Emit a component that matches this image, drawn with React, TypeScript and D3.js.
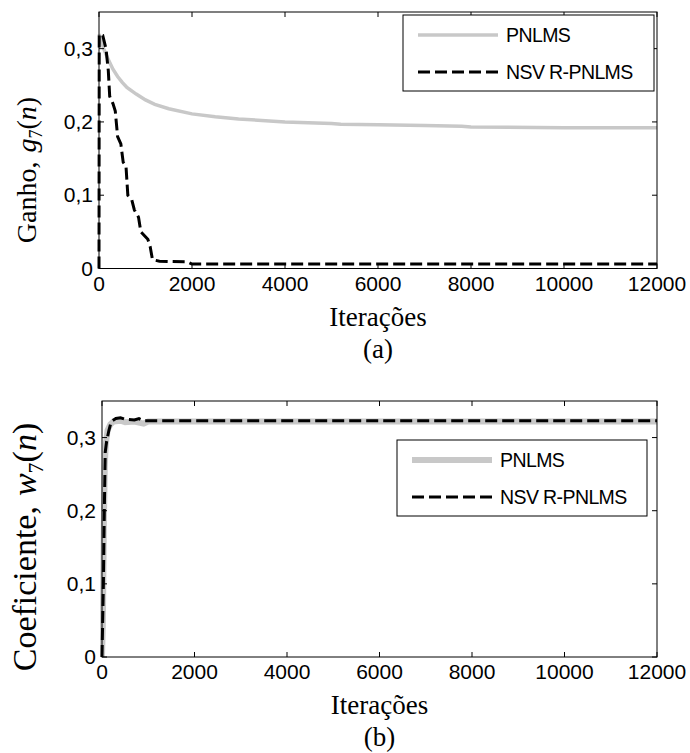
import React from "react";
import * as d3 from "d3";

// ---------- data ----------
const iterTicks = [0, 2000, 4000, 6000, 8000, 10000, 12000];
const valueTicks = [0, 0.1, 0.2, 0.3];
const valueTickLabels = ["0", "0,1", "0,2", "0,3"];
const seriesNames = ["PNLMS", "NSV R-PNLMS"];

// (a) gain g7(n)
const gainPnlmsIter = [0, 50, 100, 200, 300, 400, 500, 600, 800, 1000, 1200, 1500, 2000, 2500, 3000, 4000, 5000, 5200, 6000, 7000, 7800, 8000, 10000, 12000];
const gainPnlmsVal = [0.32, 0.31, 0.3, 0.285, 0.272, 0.262, 0.254, 0.247, 0.238, 0.23, 0.224, 0.218, 0.211, 0.207, 0.204, 0.2, 0.198, 0.197, 0.196, 0.195, 0.194, 0.193, 0.192, 0.192];
const gainNsvrIter = [0, 5, 80, 150, 200, 230, 300, 350, 400, 470, 520, 580, 620, 700, 760, 850, 900, 1050, 1100, 1150, 1300, 1900, 2000, 12000];
const gainNsvrVal = [0, 0.32, 0.318, 0.3, 0.27, 0.235, 0.225, 0.215, 0.18, 0.17, 0.145, 0.14, 0.1, 0.095, 0.08, 0.07, 0.05, 0.04, 0.03, 0.012, 0.01, 0.009, 0.006, 0.006];

// (b) coefficient w7(n)
const coefPnlmsIter = [0, 20, 40, 60, 80, 120, 180, 250, 400, 500, 700, 900, 1000, 12000];
const coefPnlmsVal = [0, 0.05, 0.18, 0.26, 0.29, 0.31, 0.318, 0.322, 0.323, 0.321, 0.322, 0.319, 0.322, 0.322];
const coefNsvrIter = [0, 30, 50, 70, 100, 150, 200, 300, 400, 500, 700, 800, 900, 12000];
const coefNsvrVal = [0, 0.1, 0.2, 0.28, 0.295, 0.31, 0.322, 0.326, 0.327, 0.325, 0.324, 0.326, 0.323, 0.323];

type Pt = [number, number];
const zip = (a: number[], b: number[]): Pt[] => a.map((v, i) => [v, b[i]]);

const GRAY = "#c8c8c8";
const SANS = "Liberation Sans, Arial, sans-serif";
const SERIF = "Liberation Serif, Times New Roman, serif";

interface PanelProps {
  x0: number; x1: number; y0: number; y1: number;
  gray: Pt[]; black: Pt[]; grayWidth: number;
  legend: { x: number; y: number; w: number; h: number };
  label: React.ReactNode; labelY: number; labelSize: number; caption: string; id: string;
}

function Panel(p: PanelProps) {
  const x = d3.scaleLinear().domain([0, 12000]).range([p.x0, p.x1]);
  const y = d3.scaleLinear().domain([0, 0.35]).range([p.y1, p.y0]);
  const line = d3.line<Pt>().x(d => x(d[0])).y(d => y(d[1]));
  const tl = 5;
  const cx = (p.x0 + p.x1) / 2;
  const lg = p.legend;
  return (
    <g>
      <defs>
        <clipPath id={p.id}>
          <rect x={p.x0 - 2} y={p.y0} width={p.x1 - p.x0 + 4} height={p.y1 - p.y0 + 2} />
        </clipPath>
      </defs>
      <g clipPath={`url(#${p.id})`}>
        <path d={line(p.gray) || ""} fill="none" stroke={GRAY} strokeWidth={p.grayWidth} />
        <path d={line(p.black) || ""} fill="none" stroke="#000" strokeWidth={3} strokeDasharray="12,5" />
      </g>
      <rect x={p.x0} y={p.y0} width={p.x1 - p.x0} height={p.y1 - p.y0} fill="none" stroke="#000" strokeWidth={1} />
      {iterTicks.map(t => (
        <g key={"xt" + t}>
          <line x1={x(t)} x2={x(t)} y1={p.y1} y2={p.y1 - tl} stroke="#000" />
          <line x1={x(t)} x2={x(t)} y1={p.y0} y2={p.y0 + tl} stroke="#000" />
          <text x={x(t)} y={p.y1 + 22} textAnchor="middle" fontFamily={SANS} fontSize={21}>{t}</text>
        </g>
      ))}
      {valueTicks.map((t, i) => (
        <g key={"yt" + t}>
          <line x1={p.x0} x2={p.x0 + tl} y1={y(t)} y2={y(t)} stroke="#000" />
          <line x1={p.x1} x2={p.x1 - tl} y1={y(t)} y2={y(t)} stroke="#000" />
          <text x={p.x0 - 6} y={y(t) + 7} textAnchor="end" fontFamily={SANS} fontSize={21}>{valueTickLabels[i]}</text>
        </g>
      ))}
      <text x={cx} y={p.y1 + 57} textAnchor="middle" fontFamily={SERIF} fontSize={27}>Iterações</text>
      <text x={cx} y={p.y1 + 89} textAnchor="middle" fontFamily={SERIF} fontSize={27}>{p.caption}</text>
      <g transform={`translate(36,${p.labelY}) rotate(-90)`}>
        <text textAnchor="middle" fontFamily={SERIF} fontSize={p.labelSize}>{p.label}</text>
      </g>
      <rect x={lg.x} y={lg.y} width={lg.w} height={lg.h} fill="#fff" stroke="#000" strokeWidth={1} />
      <line x1={lg.x + 15} x2={lg.x + 95} y1={lg.y + 20} y2={lg.y + 20} stroke={GRAY} strokeWidth={p.grayWidth} />
      <line x1={lg.x + 15} x2={lg.x + 95} y1={lg.y + 57} y2={lg.y + 57} stroke="#000" strokeWidth={3} strokeDasharray="12,5" />
      <text x={lg.x + 103} y={lg.y + 27} fontFamily={SANS} fontSize={19.5} letterSpacing={-0.6}>{seriesNames[0]}</text>
      <text x={lg.x + 103} y={lg.y + 64} fontFamily={SANS} fontSize={19.5} letterSpacing={-0.6}>{seriesNames[1]}</text>
    </g>
  );
}

export default function App() {
  return (
    <svg width={690} height={753} style={{ position: "absolute", left: 0, top: 0, background: "#fff" }}>
      <rect width={690} height={753} fill="#fff" />
      <Panel
        id="clipA"
        x0={99} x1={657} y0={12} y1={268.5}
        gray={zip(gainPnlmsIter, gainPnlmsVal)}
        black={zip(gainNsvrIter, gainNsvrVal)}
        grayWidth={3.5}
        legend={{ x: 403, y: 15, w: 251, h: 76 }}
        labelY={170}
        labelSize={28}
        caption="(a)"
        label={<>Ganho,<tspan dx={9} fontStyle="italic">g</tspan><tspan fontSize={18} dy={6}>7</tspan><tspan dy={-6}>(</tspan><tspan fontStyle="italic">n</tspan>)</>}
      />
      <Panel
        id="clipB"
        x0={102} x1={657} y0={401} y1={657}
        gray={zip(coefPnlmsIter, coefPnlmsVal)}
        black={zip(coefNsvrIter, coefNsvrVal)}
        grayWidth={6}
        legend={{ x: 397, y: 440, w: 250, h: 76 }}
        labelY={547}
        labelSize={34}
        caption="(b)"
        label={<>Coeficiente,<tspan dx={10} fontStyle="italic">w</tspan><tspan fontSize={22} dy={7}>7</tspan><tspan dy={-7}>(</tspan><tspan fontStyle="italic">n</tspan>)</>}
      />
    </svg>
  );
}
